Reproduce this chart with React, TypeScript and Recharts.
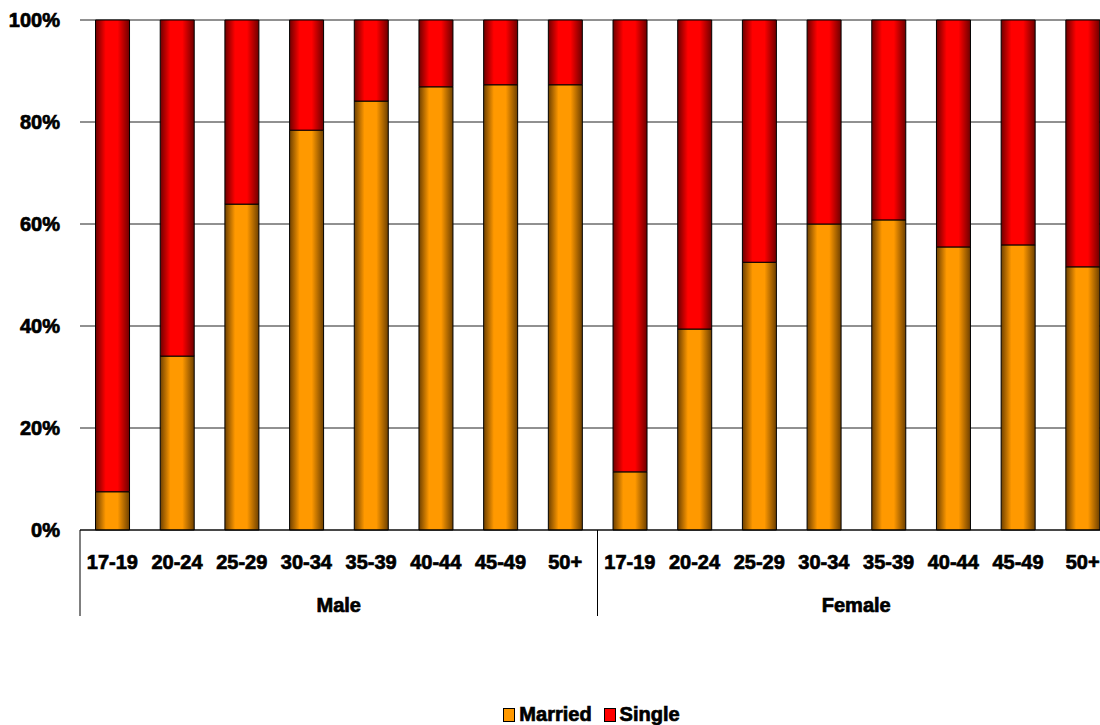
import React from "react";
import { BarChart, Bar, XAxis, YAxis, CartesianGrid, Legend } from "recharts";

const ageGroups = ["17-19", "20-24", "25-29", "30-34", "35-39", "40-44", "45-49", "50+"];
const sexes = ["Male", "Female"];

const marriedMale = [7.5, 34.1, 63.9, 78.4, 84.1, 86.9, 87.3, 87.3];
const singleMale = [92.5, 65.9, 36.1, 21.6, 15.9, 13.1, 12.7, 12.7];
const marriedFemale = [11.4, 39.4, 52.5, 60.0, 60.8, 55.5, 55.9, 51.6];
const singleFemale = [88.6, 60.6, 47.5, 40.0, 39.2, 44.5, 44.1, 48.4];

const yTicks = [0, 20, 40, 60, 80, 100];

const married = [marriedMale, marriedFemale];
const single = [singleMale, singleFemale];

const data = sexes.flatMap((sex, s) =>
  ageGroups.map((age, i) => ({
    key: `${sex} ${age}`,
    age,
    sex,
    Married: married[s][i],
    Single: single[s][i],
  }))
);

const CHART_W = 1120;
const CHART_H = 725;
const PLOT_LEFT = 80;
const PLOT_RIGHT = 5;
const HALF_BAND = (CHART_W - PLOT_LEFT - PLOT_RIGHT) / data.length / 2;
const FONT = "'Liberation Sans', Arial, sans-serif";

// heavy label look, like the original's blocky bold font
const heavy = { fontFamily: FONT, fontWeight: "bold" as const, fontSize: 20, fill: "#000", stroke: "#000", strokeWidth: 0.7 };

function AgeTick(props: any) {
  const { x, y, payload, index } = props;
  const half = payload.offset || HALF_BAND;
  const groupSize = ageGroups.length;
  const lines: React.ReactNode[] = [];
  if (index % groupSize === 0) {
    lines.push(<line key="l" x1={x - half} x2={x - half} y1={y} y2={y + 86} stroke="#000" strokeWidth={1} />);
  }
  if (index === data.length - 1) {
    lines.push(<line key="r" x1={x + half} x2={x + half} y1={y} y2={y + 86} stroke="#000" strokeWidth={1} />);
  }
  return (
    <g>
      {lines}
      <text x={x} y={y + 39} textAnchor="middle" {...heavy}>
        {data[index] ? data[index].age : ""}
      </text>
    </g>
  );
}

function GroupTick(props: any) {
  const { x, y, payload, index } = props;
  const half = payload.offset || HALF_BAND;
  const groupSize = ageGroups.length;
  if (index % groupSize !== groupSize / 2 - 1) return <g />;
  return (
    <text x={x + half} y={y + 37} textAnchor="middle" {...heavy}>
      {data[index].sex}
    </text>
  );
}

function LegendContent() {
  const items = [
    { name: "Married", color: "#FF9900" },
    { name: "Single", color: "#FF0000" },
  ];
  return (
    <div
      style={{
        display: "flex",
        justifyContent: "center",
        alignItems: "center",
        fontFamily: FONT,
        fontWeight: "bold",
        fontSize: 20,
        WebkitTextStroke: "0.7px #000",
      }}
    >
      {items.map((it) => (
        <div key={it.name} style={{ display: "flex", alignItems: "center", marginRight: 12 }}>
          <span style={{ display: "inline-block", width: 10, height: 12, background: it.color, border: "1px solid #000", marginRight: 4 }} />
          <span>{it.name}</span>
        </div>
      ))}
    </div>
  );
}

export default function App() {
  return (
    <div style={{ position: "absolute", left: 0, top: 0, width: 1100, height: 725, overflow: "hidden", background: "#fff" }}>
      <BarChart
        width={CHART_W}
        height={CHART_H}
        data={data}
        margin={{ top: 20, right: PLOT_RIGHT, left: 0, bottom: 82 }}
        barCategoryGap="24%"
      >
        <defs>
          <linearGradient id="gradMarried" x1="0" y1="0" x2="1" y2="0">
            <stop offset="0%" stopColor="#6e4000" />
            <stop offset="30%" stopColor="#ff9900" />
            <stop offset="65%" stopColor="#ff9900" />
            <stop offset="100%" stopColor="#6e4000" />
          </linearGradient>
          <linearGradient id="gradSingle" x1="0" y1="0" x2="1" y2="0">
            <stop offset="0%" stopColor="#6e0000" />
            <stop offset="30%" stopColor="#ff0000" />
            <stop offset="65%" stopColor="#ff0000" />
            <stop offset="100%" stopColor="#6e0000" />
          </linearGradient>
        </defs>
        <CartesianGrid vertical={false} stroke="#222" strokeWidth={1} />
        <XAxis
          dataKey="key"
          height={45}
          tickSize={0}
          tickMargin={0}
          interval={0}
          axisLine={{ stroke: "#000", strokeWidth: 1 }}
          tick={<AgeTick />}
        />
        <XAxis
          xAxisId="group"
          dataKey="key"
          height={45}
          tickSize={0}
          tickMargin={0}
          interval={0}
          axisLine={false}
          tick={<GroupTick />}
        />
        <YAxis
          width={PLOT_LEFT}
          domain={[0, 100]}
          ticks={yTicks}
          tickFormatter={(v: number) => `${v}%`}
          axisLine={false}
          tickLine={false}
          tickSize={0}
          tickMargin={20}
          tick={heavy}
        />
        <Legend
          content={<LegendContent />}
          wrapperStyle={{ left: PLOT_LEFT, width: CHART_W - PLOT_LEFT - PLOT_RIGHT, top: 703, bottom: "auto" }}
        />
        <Bar dataKey="Married" stackId="a" fill="url(#gradMarried)" stroke="#000" strokeWidth={1} isAnimationActive={false} />
        <Bar dataKey="Single" stackId="a" fill="url(#gradSingle)" stroke="#000" strokeWidth={1} isAnimationActive={false} />
      </BarChart>
    </div>
  );
}
